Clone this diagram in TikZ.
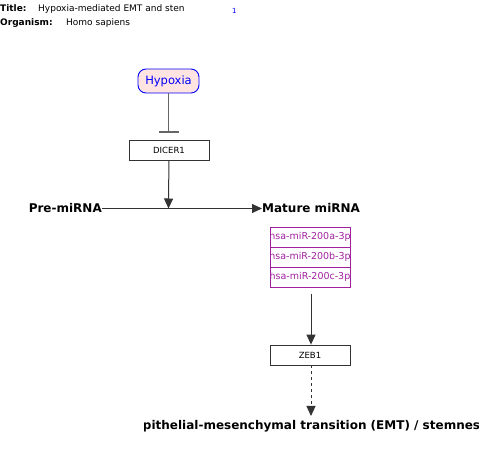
\documentclass[tikz,border=0pt]{standalone}
\usepackage{fontspec}
\setmainfont{DejaVu Sans}
\usetikzlibrary{arrows.meta}
\definecolor{mir}{HTML}{A020A0}
\definecolor{hypfill}{HTML}{FFE4E1}
\definecolor{edge}{HTML}{333333}
\tikzset{
  hyp/.style={draw=blue, line width=0.9pt, fill=hypfill, rounded corners=8pt, minimum width=61pt, minimum height=24pt, inner sep=0pt, text=blue, font=\fontsize{11.5}{12}\selectfont},
  genebox/.style={draw=edge, line width=0.8pt, minimum width=80pt, minimum height=20pt, inner sep=0pt, font=\fontsize{8.5}{9}\selectfont},
  mirbox/.style={draw=mir, line width=0.8pt, minimum width=80pt, minimum height=20pt, inner sep=0pt},
  mirtext/.style={text=mir, inner sep=0pt, font=\fontsize{9.5}{10}\selectfont},
  lbl/.style={inner sep=0pt, font=\bfseries\fontsize{12}{13}\selectfont},
  arr/.style={draw=edge, line width=1pt, -{Triangle[length=10pt,width=9pt]}},
  inh/.style={draw=gray!80!black, line width=1.5pt, -{Bar[width=20pt,line width=2.5pt]}},
  dasharr/.style={arr, dashed},
  ttl/.style={inner sep=0pt, anchor=base west, font=\fontsize{9}{10}\selectfont},
}
\begin{document}
\begin{tikzpicture}[x=1pt,y=-1pt]
\useasboundingbox (0,0) rectangle (491,449);
% header
\node[ttl] (t1) at (0,12) {\textbf{Title:}};
\node[ttl] (t2) at (38,12) {Hypoxia-mediated EMT and sten};
\node[ttl, text=blue, font=\fontsize{7}{8}\selectfont] (t3) at (232,14) {1};
\node[ttl] (o1) at (0,26) {\textbf{Organism:}};
\node[ttl] (o2) at (66,26) {Homo sapiens};
% nodes
\node[hyp] (hyp) at (168.5,81) {Hypoxia};
\coordinate (bar) at (168.5,133.5);
\node[genebox] (dicer) at (169,150) {DICER1};
\node[lbl, anchor=east] (pre) at (102,208.5) {Pre-miRNA};
\node[lbl, anchor=west] (mat) at (262,208.5) {Mature miRNA};
\coordinate (mid) at (168.5,208.5);
\draw[inh] (hyp) -- (bar);
\draw[arr] (dicer) -- (mid);
\draw[arr] (pre) -- (mat);
% miRNA boxes
\foreach \n/\y/\t in {m1/237/hsa-miR-200a-3p, m2/257/hsa-miR-200b-3p, m3/277/hsa-miR-200c-3p}{
  \node[mirbox] (\n) at (310,\y) {};
  \begin{scope}
    \clip (\n.south west) rectangle (\n.north east);
    \node[mirtext] (\n t) at (\n) {\t};
  \end{scope}
}
\coordinate (m3b) at (311,294);
\node[genebox] (zeb) at (310,355) {ZEB1};
\draw[arr] (m3b) -- (zeb.north -| m3b);
% EMT label
\begin{scope}
  \clip (144,410) rectangle (478,440);
  \node[lbl] (emt) at (311,426) {Epithelial-mesenchymal transition (EMT) / stemness};
\end{scope}
\coordinate (emtTop) at (311,416);
\draw[dasharr] (zeb.south -| emtTop) -- (emtTop);
\end{tikzpicture}
\end{document}
